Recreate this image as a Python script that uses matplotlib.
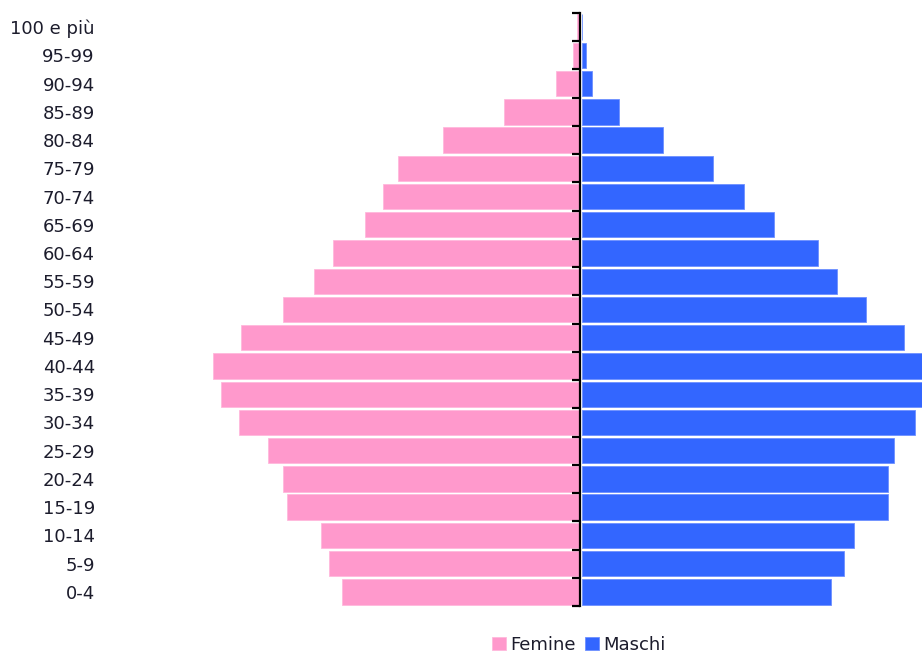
import matplotlib
matplotlib.use("Agg")
import matplotlib.pyplot as plt
import numpy as np

# Age classes, youngest first (drawn bottom to top)
age_groups = ["0-4", "5-9", "10-14", "15-19", "20-24", "25-29", "30-34",
              "35-39", "40-44", "45-49", "50-54", "55-59", "60-64", "65-69",
              "70-74", "75-79", "80-84", "85-89", "90-94", "95-99", "100 e più"]
femine = [238, 251, 259, 293, 297, 312, 341, 359, 367, 339, 297, 266, 247,
          215, 197, 182, 137, 76, 24, 7, 3]
maschi = [249, 262, 272, 306, 306, 312, 333, 350, 348, 322, 284, 255, 236,
          192, 162, 131, 81, 37, 10, 4, 0.5]

PINK = "#FF99CC"
BLUE = "#3366FF"
TEXT = "#1c1c2c"

fig = plt.figure(figsize=(9.22, 6.54), dpi=100)
left_px = 99
ax = fig.add_axes([left_px / 922, 48 / 654, (922 - left_px) / 922, 593 / 654])

y = np.arange(len(age_groups))
ax.barh(y, -np.array(femine), height=0.9, color=PINK, edgecolor="#ffb8dc",
        linewidth=0.6, label="Femine")
ax.barh(y, maschi, left=1.5, height=0.9, color=BLUE, edgecolor="#6d90ff",
        linewidth=0.6, label="Maschi")

xmin, xmax = -(580 - left_px), 342
ax.set_xlim(xmin, xmax)
ax.set_ylim(-0.5, len(age_groups) - 0.5)

for s in ax.spines.values():
    s.set_visible(False)
ax.set_xticks([])
ax.set_yticks(y)
ax.set_yticklabels(age_groups, fontsize=13, color=TEXT, family="DejaVu Sans")
ax.tick_params(axis="y", length=0, pad=3)

# Central axis with class-boundary ticks, drawn over the bars
loc = (0 - xmin) / (xmax - xmin)
sec = ax.secondary_yaxis(loc)
sec.set_zorder(5)
for name in ("right", "top", "bottom"):
    sec.spines[name].set_visible(False)
sec.spines["left"].set_visible(True)
sec.spines["left"].set_linewidth(1.6)
sec.spines["left"].set_color("black")
sec.yaxis.set_ticks_position("left")
sec.set_yticks(np.arange(len(age_groups) + 1) - 0.5)
sec.set_yticklabels([])
sec.tick_params(axis="y", direction="out", length=6, width=1.6, color="black")

leg = fig.legend(loc="center", bbox_to_anchor=(579 / 922, 1 - 645 / 654),
                 ncol=2, frameon=False, fontsize=13, handlelength=0.75,
                 handleheight=0.75, handletextpad=0.25, columnspacing=0.5,
                 borderpad=0)
for t in leg.get_texts():
    t.set_color(TEXT)

fig.savefig("out.png", dpi=100)
